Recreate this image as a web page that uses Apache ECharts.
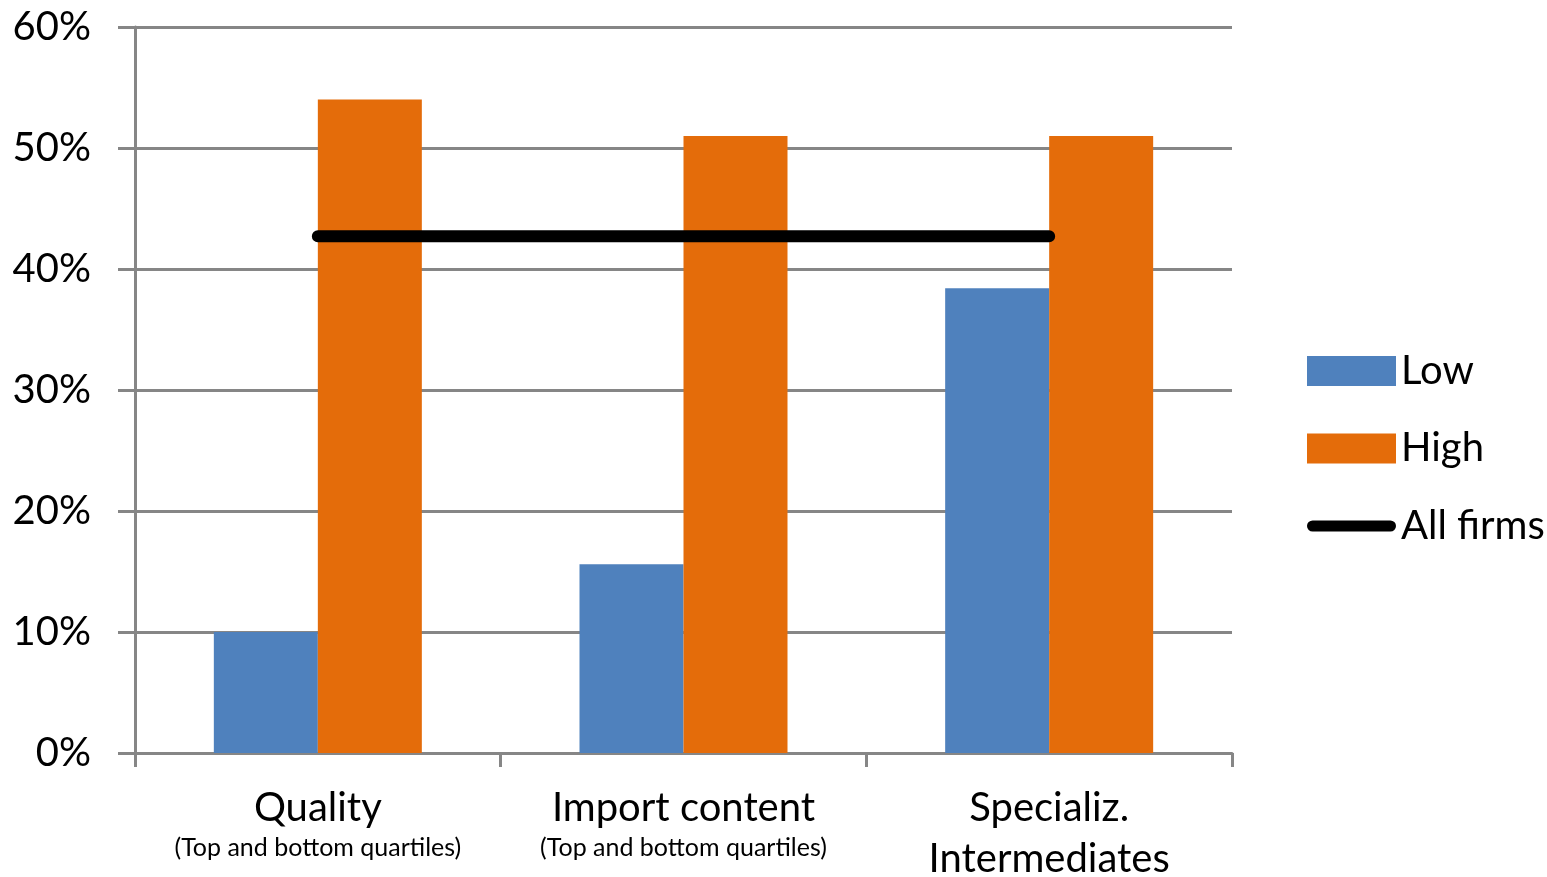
<!DOCTYPE html>
<html>
<head>
<meta charset="utf-8">
<script src="https://cdn.jsdelivr.net/npm/echarts@6/dist/echarts.min.js"></script>
<style>
html,body{margin:0;padding:0;background:#fff;}
#chart{width:1547px;height:877px;}
</style>
</head>
<body>
<div id="chart"></div>
<script>
var categories = ['Quality', 'Import content', 'Specializ.'];
var subLabels = ['(Top and bottom quartiles)', '(Top and bottom quartiles)', 'Intermediates'];
var lowValues = [10, 15.6, 38.4];
var highValues = [54, 51, 51];
var allFirmsValues = [42.7, 42.7, 42.7];
var yTicks = { min: 0, max: 60, interval: 10 };

var FONT = 'Lato, "Noto Sans", sans-serif';
var GRAY = '#868686';

var chart = echarts.init(document.getElementById('chart'));
chart.setOption({
  animation: false,
  backgroundColor: '#fff',
  grid: { left: 135, right: 315, top: 27, bottom: 124, containLabel: false, outerBoundsMode: 'none' },
  legend: {
    orient: 'vertical',
    left: 1302,
    top: 346,
    itemWidth: 89,
    itemHeight: 30,
    itemGap: 37.5,
    symbolKeepAspect: true,
    textStyle: { fontFamily: FONT, fontSize: 40, color: '#000' },
    data: [
      { name: 'Low', icon: 'rect' },
      { name: 'High', icon: 'rect' },
      { name: 'All firms', icon: 'path://M6,0 L89,0 A6,6 0 0 1 89,12 L6,12 A6,6 0 0 1 6,0 Z' }
    ]
  },
  xAxis: {
    type: 'category',
    data: categories,
    axisLine: { lineStyle: { color: GRAY, width: 3 } },
    axisTick: { show: true, length: 14, lineStyle: { color: GRAY, width: 3 } },
    axisLabel: {
      margin: 30,
      interval: 0,
      formatter: function (v, i) {
        var sub = subLabels[i];
        if (sub.charAt(0) === '(') return '{a|' + v + '}\n{b|' + sub + '}';
        return '{a|' + v + '}\n{a|' + sub + '}';
      },
      rich: {
        a: { fontFamily: FONT, fontSize: 40, color: '#000', lineHeight: 51 },
        b: { fontFamily: FONT, fontSize: 25, color: '#000', lineHeight: 28 }
      }
    }
  },
  yAxis: {
    type: 'value',
    min: yTicks.min,
    max: yTicks.max,
    interval: yTicks.interval,
    axisLine: { show: true, lineStyle: { color: GRAY, width: 3 } },
    axisTick: { show: true, length: 17, lineStyle: { color: GRAY, width: 3 } },
    splitLine: { lineStyle: { color: GRAY, width: 3 } },
    axisLabel: {
      margin: 44,
      formatter: '{value}%',
      fontFamily: FONT,
      fontSize: 40,
      color: '#000'
    }
  },
  series: [
    {
      name: 'Low', type: 'bar', data: lowValues, barWidth: 104, barGap: '0%',
      itemStyle: { color: '#4F81BD' }, z: 2
    },
    {
      name: 'High', type: 'bar', data: highValues, barWidth: 104, barGap: '0%',
      itemStyle: { color: '#E46C0A' }, z: 2
    },
    {
      name: 'All firms', type: 'line', data: allFirmsValues, symbol: 'none',
      lineStyle: { color: '#000', width: 12, cap: 'round' },
      itemStyle: { color: '#000' }, z: 5
    }
  ]
});
</script>
</body>
</html>
